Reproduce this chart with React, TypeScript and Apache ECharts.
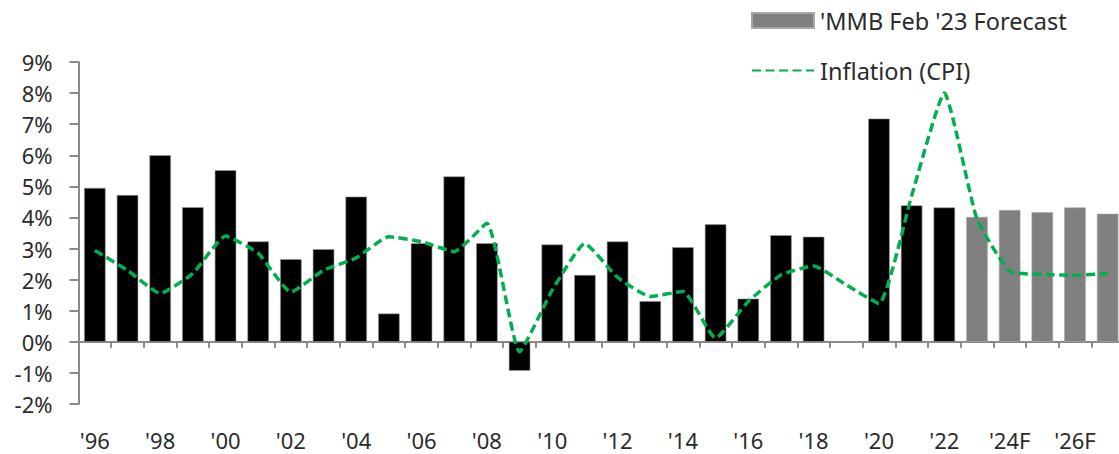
import React, { useEffect, useRef } from "react";
import * as echarts from "echarts";

const categories = [
  "'96", "'97", "'98", "'99", "'00", "'01", "'02", "'03", "'04", "'05",
  "'06", "'07", "'08", "'09", "'10", "'11", "'12", "'13", "'14", "'15",
  "'16", "'17", "'18", "'19", "'20", "'21", "'22", "'23F", "'24F", "'25F",
  "'26F", "'27F",
];

const historical = [
  4.95, 4.72, 6.0, 4.33, 5.52, 3.23, 2.66, 2.98, 4.67, 0.91,
  3.17, 5.32, 3.17, -0.93, 3.13, 2.15, 3.23, 1.31, 3.04, 3.78,
  1.39, 3.43, 3.38, null, 7.18, 4.39, 4.32, null, null, null,
  null, null,
];

const forecast = [
  null, null, null, null, null, null, null, null, null, null,
  null, null, null, null, null, null, null, null, null, null,
  null, null, null, null, null, null, null, 4.02, 4.24, 4.17,
  4.32, 4.12,
];

const inflation = [
  2.94, 2.3, 1.56, 2.2, 3.4, 2.85, 1.6, 2.3, 2.7, 3.38,
  3.22, 2.9, 3.81, -0.32, 1.66, 3.16, 2.07, 1.46, 1.62, 0.12,
  1.3, 2.15, 2.44, 1.83, 1.23, 4.7, 8.0, 3.95, 2.27, 2.17,
  2.14, 2.2,
];

const yMin = -2;
const yMax = 9;

const FONT = "Noto Sans";
const TEXT = "#2b2b2b";
const AXIS = "#8a8a8a";

export default function App() {
  const ref = useRef<HTMLDivElement>(null);

  useEffect(() => {
    if (!ref.current) return;
    const chart = echarts.init(ref.current, null, { renderer: "svg" });
    chart.setOption({
      animation: false,
      backgroundColor: "#ffffff",
      textStyle: { fontFamily: FONT },
      grid: {
        left: 78.5,
        right: -5,
        top: 62,
        bottom: 50,
        containLabel: false,
        outerBoundsMode: "none",
      },
      legend: {
        orient: "vertical",
        left: 746,
        top: 3.5,
        itemWidth: 62,
        itemHeight: 15,
        itemGap: 26,
        selectedMode: false,
        textStyle: {
          fontFamily: FONT,
          fontSize: 23.5,
          lineHeight: 24,
          color: TEXT,
          padding: [0, 0, 0, 1],
        },
        data: [
          { name: "'MMB Feb '23 Forecast", icon: "rect" },
          { name: "Inflation (CPI)", itemStyle: { opacity: 0 } },
        ],
      },
      xAxis: {
        type: "category",
        data: categories,
        boundaryGap: true,
        axisLine: { onZero: true, lineStyle: { color: AXIS, width: 2 } },
        axisTick: { show: true, interval: 0, length: 6, lineStyle: { color: AXIS, width: 2 } },
        axisLabel: {
          interval: 1,
          margin: 25,
          fontFamily: FONT,
          fontSize: 22,
          color: TEXT,
        },
        splitLine: { show: false },
      },
      yAxis: {
        type: "value",
        min: yMin,
        max: yMax,
        interval: 1,
        axisLine: { show: true, lineStyle: { color: AXIS, width: 2 } },
        axisTick: { show: true, length: 9, lineStyle: { color: AXIS, width: 2 } },
        axisLabel: {
          margin: 26,
          fontFamily: FONT,
          fontSize: 22,
          color: TEXT,
          formatter: (v: number) => `${v}%`,
        },
        splitLine: { show: false },
      },
      series: [
        {
          name: "Historical",
          type: "bar",
          stack: "bars",
          data: historical,
          barWidth: 21.5,
          itemStyle: { color: "#000000", borderColor: "#9a9a9a", borderWidth: 0.6 },
        },
        {
          name: "'MMB Feb '23 Forecast",
          type: "bar",
          stack: "bars",
          data: forecast,
          barWidth: 21.5,
          itemStyle: { color: "#808080", borderColor: "#a8a8a8", borderWidth: 0.6 },
        },
        {
          name: "Inflation (CPI)",
          type: "line",
          data: inflation,
          smooth: 0.15,
          symbol: "none",
          z: 5,
          itemStyle: { color: "#00B050" },
          lineStyle: { color: "#00B050", width: 3.5, type: [9, 4.5] },
        },
      ],
    });
    return () => chart.dispose();
  }, []);

  return (
    <div
      ref={ref}
      style={{ position: "fixed", left: 0, top: 0, width: 1119, height: 454, background: "#fff" }}
    />
  );
}
